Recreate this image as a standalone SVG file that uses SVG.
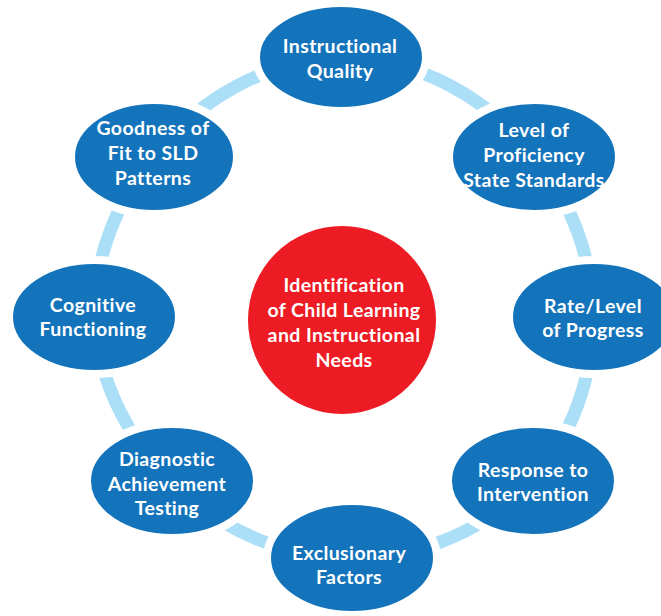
<svg xmlns="http://www.w3.org/2000/svg" width="661" height="616" viewBox="0 0 661 616">
<style>
.node{fill:#1474bb;stroke:#ffffff;stroke-width:8}
.conn{fill:none;stroke:#abdff7;stroke-width:13}
text{font-family:Lato,"Liberation Sans",sans-serif;font-weight:bold;font-size:19.5px;letter-spacing:0.4px;fill:#ffffff;text-anchor:middle}
</style>
<rect width="661" height="616" fill="#ffffff"/>
<g id="connectors">
<path class="conn" d="M341,57 A250,250 0 0 1 534,157"/>
<path class="conn" d="M534,157 A250,250 0 0 1 593,317"/>
<path class="conn" d="M593,317 A250,250 0 0 1 533,481"/>
<path class="conn" d="M533,481 A250,250 0 0 1 352,558"/>
<path class="conn" d="M352,558 A250,250 0 0 1 172,481"/>
<path class="conn" d="M172,481 A250,250 0 0 1 94,317"/>
<path class="conn" d="M94,317 A250,250 0 0 1 154,157"/>
<path class="conn" d="M154,157 A250,250 0 0 1 341,57"/>
</g>
<g id="center">
<circle cx="342" cy="320" r="94" fill="#ed1c24"/>
<text x="344" y="292">Identification</text>
<text x="344" y="317">of Child Learning</text>
<text x="344" y="342">and Instructional</text>
<text x="344" y="367">Needs</text>
</g>
<g id="instructional-quality">
<ellipse class="node" cx="341" cy="57" rx="85" ry="54"/>
<text x="340" y="53">Instructional</text>
<text x="340" y="78">Quality</text>
</g>
<g id="level-of-proficiency">
<ellipse class="node" cx="534" cy="157" rx="85" ry="57"/>
<text x="534" y="137">Level of</text>
<text x="534" y="162">Proficiency</text>
<text x="534" y="187">State Standards</text>
</g>
<g id="rate-level">
<ellipse class="node" cx="594" cy="317" rx="85" ry="57"/>
<text x="593" y="313">Rate/Level</text>
<text x="593" y="337">of Progress</text>
</g>
<g id="response-to-intervention">
<ellipse class="node" cx="533" cy="481" rx="85" ry="57"/>
<text x="533" y="477">Response to</text>
<text x="533" y="501">Intervention</text>
</g>
<g id="exclusionary-factors">
<ellipse class="node" cx="352" cy="558" rx="85" ry="57"/>
<text x="349" y="560">Exclusionary</text>
<text x="349" y="584">Factors</text>
</g>
<g id="diagnostic-achievement">
<ellipse class="node" cx="172" cy="481" rx="85" ry="57"/>
<text x="167" y="466">Diagnostic</text>
<text x="167" y="491">Achievement</text>
<text x="167" y="515">Testing</text>
</g>
<g id="cognitive-functioning">
<ellipse class="node" cx="94" cy="317" rx="85" ry="57"/>
<text x="93" y="312">Cognitive</text>
<text x="93" y="336">Functioning</text>
</g>
<g id="goodness-of-fit">
<ellipse class="node" cx="154" cy="157" rx="83" ry="57"/>
<text x="153" y="135">Goodness of</text>
<text x="153" y="160">Fit to SLD</text>
<text x="153" y="185">Patterns</text>
</g>
</svg>
